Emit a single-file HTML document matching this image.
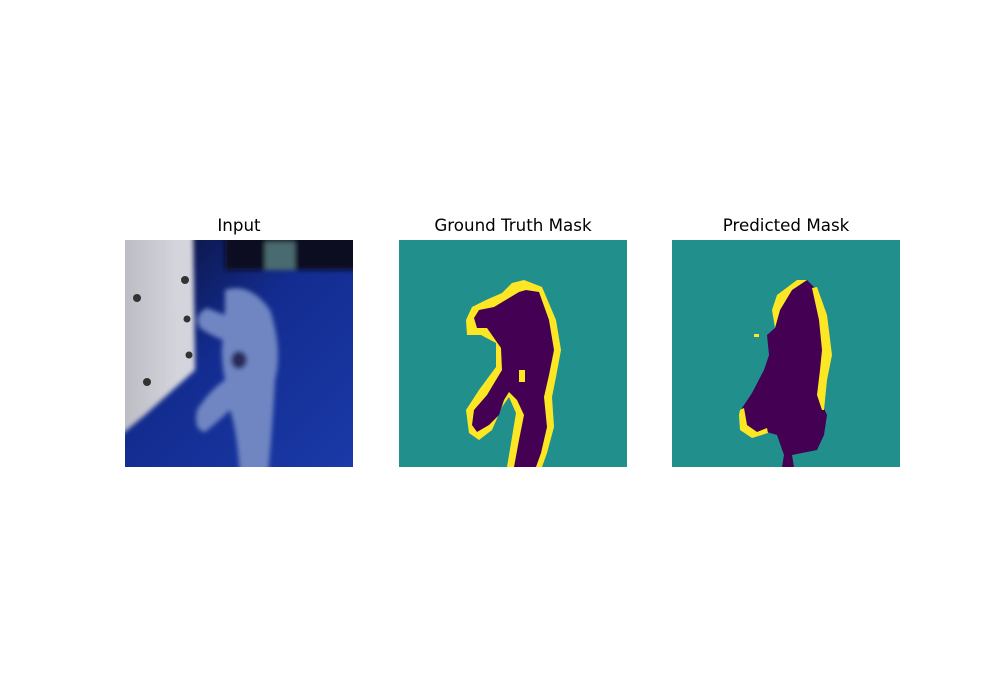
<!DOCTYPE html>
<html><head><meta charset="utf-8"><style>
html,body{margin:0;padding:0;background:#fff;}
svg{display:block;}
text{font-family:"DejaVu Sans","Liberation Sans",sans-serif;font-size:16.7px;fill:#000;}
</style></head><body>
<svg width="1000" height="700" viewBox="0 0 1000 700">
<defs>
<linearGradient id="floor" x1="0" y1="0" x2="1" y2="1">
<stop offset="0" stop-color="#0a0f30"/><stop offset="0.45" stop-color="#132c90"/><stop offset="1" stop-color="#1a3aa8"/>
</linearGradient>
<linearGradient id="cab" x1="0" y1="0" x2="1" y2="0">
<stop offset="0" stop-color="#b8b8c0"/><stop offset="1" stop-color="#dcdce4"/>
</linearGradient>
<filter id="blur"><feGaussianBlur stdDeviation="2.5"/></filter>
<clipPath id="clipIn"><rect width="228" height="227"/></clipPath>
</defs>

<text x="239" y="231" text-anchor="middle">Input</text>
<text x="513" y="231" text-anchor="middle">Ground Truth Mask</text>
<text x="786" y="231" text-anchor="middle">Predicted Mask</text>

<g transform="translate(125,240)" clip-path="url(#clipIn)">
<rect width="228" height="227" fill="url(#floor)"/>
<g filter="url(#blur)">
<rect x="100" y="-10" width="140" height="40" fill="#0b0d22"/>
<polygon points="-10,-10 68,-10 70,130 20,175 -10,200" fill="url(#cab)"/>
<polygon points="44,-10 68,-10 70,130 52,140 50,20" fill="#d4d4dc"/>
<path d="M100,50 Q125,42 145,70 Q158,110 150,140 Q148,180 143,235 L115,235 Q112,190 105,170 Q95,180 80,192 Q68,190 72,170 Q85,150 100,140 Q95,115 98,100 Q85,95 75,88 Q68,75 82,68 Q92,72 100,75 Z" fill="#6f86c2"/>
<ellipse cx="114" cy="120" rx="8" ry="9" fill="#2a2a5a"/>
<rect x="140" y="2" width="30" height="28" fill="#4a6a70"/>
</g>
<circle cx="12" cy="58" r="4" fill="#333"/><circle cx="60" cy="40" r="4" fill="#333"/>
<circle cx="62" cy="79" r="3.5" fill="#333"/><circle cx="64" cy="115" r="3.5" fill="#333"/>
<circle cx="22" cy="142" r="4" fill="#333"/>
</g>

<g transform="translate(399,240)">
<rect width="228" height="227" fill="#21908d"/>
<path d="M125,40 L143,47 L157,80 L162,110 L157,137 L153,157 L155,187 L148,213 L143,227 L108,227 L112,203 L117,173 L110,157 L103,167 L93,190 L80,200 L70,193 L67,170 L80,150 L97,127 L97,103 L82,95 L68,95 L67,80 L73,67 L87,60 L103,53 L113,43 Z" fill="#fde725"/>
<path d="M127,50 L140,52 L150,80 L155,110 L150,135 L145,157 L148,187 L142,213 L137,227 L115,227 L120,200 L125,175 L118,160 L110,152 L105,160 L100,175 L90,185 L78,192 L73,185 L75,170 L88,155 L103,130 L102,108 L95,98 L88,88 L78,88 L75,78 L80,70 L95,67 L110,58 L120,52 Z" fill="#440154"/>
<rect x="120" y="130" width="6" height="12" fill="#fde725"/>
</g>

<g transform="translate(672,240)">
<rect width="228" height="227" fill="#21908d"/>
<path d="M135,40 L142,47 L150,75 L155,110 L150,135 L148,160 L155,175 L152,195 L145,210 L120,215 L122,227 L110,227 L112,215 L105,195 L95,192 L80,195 L70,185 L70,168 L80,153 L92,130 L97,115 L95,95 L103,88 L108,70 L120,50 Z" fill="#440154"/>
<path d="M125,40 L135,40 L120,50 L108,70 L103,88 L100,70 L105,55 Z" fill="#fde725"/>
<path d="M140,48 L145,47 L155,75 L160,115 L155,140 L152,170 L150,170 L145,155 L148,130 L150,110 L147,80 Z" fill="#fde725"/>
<path d="M68,170 L72,168 L75,185 L85,192 L95,188 L96,193 L80,198 L68,190 L67,175 Z" fill="#fde725"/>
<rect x="82" y="94" width="5" height="3" fill="#fde725"/>
</g>
</svg>
</body></html>
